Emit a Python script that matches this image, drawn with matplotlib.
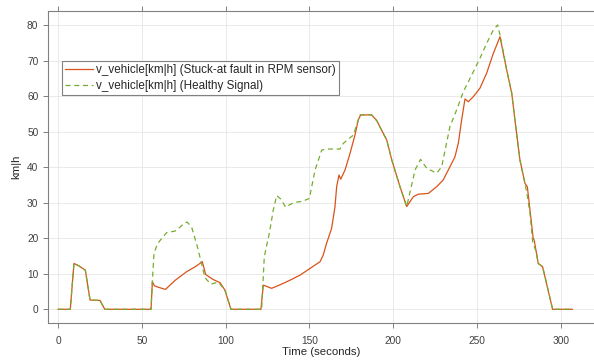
import matplotlib
matplotlib.use("Agg")
import matplotlib.pyplot as plt

plt.rcParams['font.family'] = ['Liberation Sans', 'DejaVu Sans']

# Faulty signal (stuck-at fault in RPM sensor)
t_fault = [0, 7.3, 9.5, 12.5, 16.3, 19.1, 25, 27.9, 55.5, 56.3, 57.5, 59.9, 64.1, 70, 76.8,
           82, 86.1, 88.1, 92.5, 96.7, 99.6, 103.2, 121.1, 122.5, 127.5, 133, 138.5, 144.4,
           150.4, 156.4, 158.3, 160.3, 163.3, 165.3, 166.3, 167.7, 168.7, 171.3, 174.3,
           177.2, 179.2, 180.6, 187.2, 190.2, 196.2, 199.2, 204.1, 208.1, 212.1, 215.1, 221,
           226, 229.9, 233.9, 236.9, 238.9, 240.9, 242.9, 244.9, 247.8, 251.8, 255.8, 259.8,
           263.8, 267.8, 270.8, 272.7, 275.7, 278.7, 280.1, 281.7, 283.6, 284.2, 286.6,
           289.2, 295.2, 307]
v_fault = [0, 0, 12.9, 12.2, 11, 2.6, 2.5, 0, 0, 7.8, 6.6, 6.2, 5.6, 8.2, 10.6,
           12, 13.4, 9.8, 8.4, 7.5, 5.4, 0, 0, 6.8, 5.9, 7, 8.2, 9.6,
           11.5, 13.4, 15.3, 18.6, 22.8, 28.9, 34.5, 37.8, 36.6, 39.2, 43.9,
           49, 53.3, 54.7, 54.7, 53.1, 47.6, 42, 34.5, 28.9, 31.7, 32.4, 32.6,
           34.5, 36.4, 40.1, 42.9, 46.7, 53.3, 59.2, 58.4, 59.8, 62.2, 66.4, 72,
           76.7, 67.3, 60.8, 53.3, 42, 35.4, 34.5, 27.9, 20, 19.5, 12.9,
           12, 0, 0]

# Healthy signal
t_healthy = [0, 7.3, 9.5, 12.5, 16.3, 19.1, 25, 27.9, 55.5, 56.3, 57.3, 59.5, 61.9, 64.9,
             69.8, 72.5, 75.8, 77.2, 79.8, 83.4, 87.7, 91.1, 95.7, 99.6, 103.2, 121.5,
             123.1, 126.1, 128.5, 130.5, 133, 135.9, 138.5, 141.4, 146, 150, 153.4, 157.4,
             160.3, 168.3, 170.3, 176.2, 180.2, 187.2, 190.2, 196.2, 199.2, 204.1, 208.1,
             213.1, 216.4, 220, 226, 229, 233.9, 237.9, 241.9, 246.9, 251.8, 255.8, 259.8,
             262.4, 263.8, 267.8, 270.8, 272.7, 275.7, 278.7, 279.7, 281.7, 283.3, 285.5,
             286.6, 289.2, 295.2, 307]
v_healthy = [0, 0, 13, 12.2, 11, 2.6, 2.5, 0, 0, 8, 15.9, 18.5, 20, 21.6,
             22, 23, 24.4, 24.5, 23, 17.2, 8.9, 7.1, 7.6, 5.4, 0, 0,
             14.8, 21.4, 28, 32, 31, 28.7, 29.5, 30.1, 30.4, 31.2, 39.2, 44.8,
             45.1, 45.1, 46.7, 49, 54.7, 54.7, 53.1, 47.6, 42, 34.5, 28.9,
             39.2, 42.2, 39.7, 38.3, 40.1, 51.4, 56.1, 61.2, 65.9, 70.6, 74.8, 78.6,
             80, 77.2, 67.3, 60.8, 53.3, 42, 35.4, 33, 27, 19, 16,
             12.9, 12, 0, 0]

x_ticks = [0, 50, 100, 150, 200, 250, 300]
y_ticks = [0, 10, 20, 30, 40, 50, 60, 70, 80]
label_fault = 'v_vehicle[km|h] (Stuck-at fault in RPM sensor)'
label_healthy = 'v_vehicle[km|h] (Healthy Signal)'

fig = plt.figure(figsize=(5.94, 3.6), dpi=100)
ax = fig.add_axes([47.5 / 594, 1 - 323.3 / 360, (594 - 47.5) / 594, (323.3 - 11.3) / 360])

ax.plot(t_fault, v_fault, color='#D95319', lw=0.9, label=label_fault, zorder=3)
ax.plot(t_healthy, v_healthy, color='#77AC30', lw=0.9, ls=(0, (4, 3)), label=label_healthy, zorder=4)

ax.set_xlim(-6.3, 319.9)
ax.set_ylim(-3.94, 83.85)
ax.set_xticks(x_ticks)
ax.set_yticks(y_ticks)
ax.grid(True, color='#e6e6e6', lw=0.6)
ax.set_axisbelow(True)

for s in ['left', 'bottom', 'top']:
    ax.spines[s].set_color('#808080')
    ax.spines[s].set_linewidth(0.8)
ax.spines['right'].set_visible(False)
ax.tick_params(axis='both', direction='out', length=3.6, width=0.7, color='#808080',
               labelcolor='#404040', labelsize=7.3)
ax.tick_params(axis='y', pad=3)
ax.tick_params(axis='x', top=True, pad=5.5)

ax.set_xlabel('Time (seconds)', fontsize=8.2, color='#262626', labelpad=1)
ax.set_ylabel('km|h', fontsize=8.2, color='#262626', labelpad=4)

leg = ax.legend(loc='upper left', bbox_to_anchor=(62 / 594, 1 - 61 / 360),
                bbox_transform=fig.transFigure, borderaxespad=0, fontsize=8.35,
                frameon=True, fancybox=False, framealpha=1, edgecolor='#808080',
                handlelength=2.4, handletextpad=0.25, labelspacing=0.3,
                borderpad=0.3)
leg.get_frame().set_linewidth(0.8)
for txt in leg.get_texts():
    txt.set_color('#262626')

fig.savefig('out.png', dpi=100)
